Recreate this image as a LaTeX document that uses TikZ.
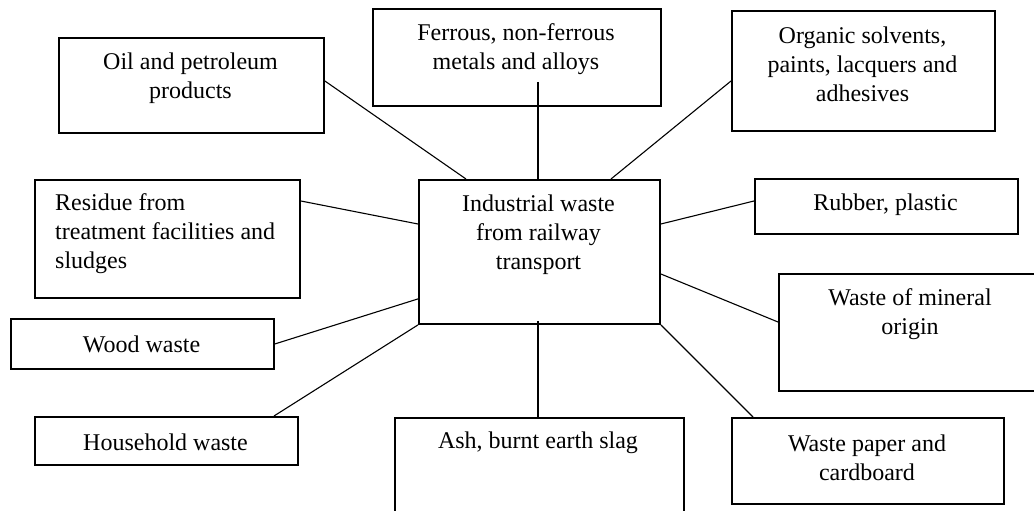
\documentclass[tikz,border=0pt]{standalone}
\usepackage{fontspec}
\setmainfont{Liberation Serif}
\usetikzlibrary{calc}
\begin{document}
\begin{tikzpicture}[x=1pt,y=-1pt,
  box/.style={draw, line width=1.9pt, inner sep=0pt, anchor=north west},
  lbl/.style={font=\fontsize{24}{29}\selectfont, align=center, inner sep=0pt},
  link/.style={line width=1.1pt}]
\useasboundingbox (0,0) rectangle (1034,511);
% boxes
\node[box, minimum width=265pt, minimum height=95pt] (oil) at (58,37) {};
\node[box, minimum width=288pt, minimum height=97pt] (fer) at (372,8) {};
\node[box, minimum width=263pt, minimum height=120pt] (org) at (731,10) {};
\node[box, minimum width=265pt, minimum height=118pt] (res) at (34,179) {};
\node[box, minimum width=241pt, minimum height=144pt] (cen) at (418,179) {};
\node[box, minimum width=263pt, minimum height=55pt] (rub) at (754,178) {};
\node[box, minimum width=262pt, minimum height=117pt] (min) at (778,273) {};
\node[box, minimum width=263pt, minimum height=50pt] (wood) at (10,318) {};
\node[box, minimum width=263pt, minimum height=48pt] (house) at (34,416) {};
\node[box, minimum width=289pt, minimum height=125pt] (ash) at (394,417) {};
\node[box, minimum width=272pt, minimum height=86pt] (paper) at (731,417) {};
% texts
\node[lbl] (oilt) at (190.5,78) {Oil and petroleum\\products};
\node[lbl] (fert) at (516,49) {Ferrous, non-ferrous\\metals and alloys};
\node[lbl] (orgt) at (862.5,64) {Organic solvents,\\paints, lacquers and\\adhesives};
\node[lbl, align=left, anchor=west] (rest) at (55,234) {Residue from\\treatment facilities and\\sludges};
\node[lbl] (cent) at (538.5,235) {Industrial waste\\from railway\\transport};
\node[lbl] (rubt) at (885.5,205) {Rubber, plastic};
\node[lbl] (mint) at (910,314) {Waste of mineral\\origin};
\node[lbl] (woodt) at (141.5,344) {Wood waste};
\node[lbl] (houset) at (165.5,442) {Household waste};
\node[lbl] (asht) at (538,443) {Ash, burnt earth slag};
\node[lbl] (papert) at (867,458) {Waste paper and\\cardboard};
% connectors
\draw[link] ($(oil.north east)+(0,44)$) -- ($(cen.north west)+(48,0)$);
\draw[link] ($(fer.south west)+(166,-25)$) -- ($(cen.north west)+(120,0)$);
\draw[link] ($(org.north west)+(0,71)$) -- ($(cen.north west)+(193,0)$);
\draw[link] ($(res.north east)+(0,22)$) -- ($(cen.north west)+(0,45)$);
\draw[link] ($(cen.north east)+(0,45)$) -- ($(rub.north west)+(0,23)$);
\draw[link] (wood.east) -- ($(cen.south west)+(0,-26)$);
\draw[link] ($(house.north west)+(240,0)$) -- (cen.south west);
\draw[link] ($(cen.north east)+(0,95)$) -- ($(min.north west)+(0,49)$);
\draw[link] ($(cen.south west)+(120,-4)$) -- ($(ash.north west)+(144,0)$);
\draw[link] (cen.south east) -- ($(paper.north west)+(22,0)$);
\end{tikzpicture}
\end{document}
